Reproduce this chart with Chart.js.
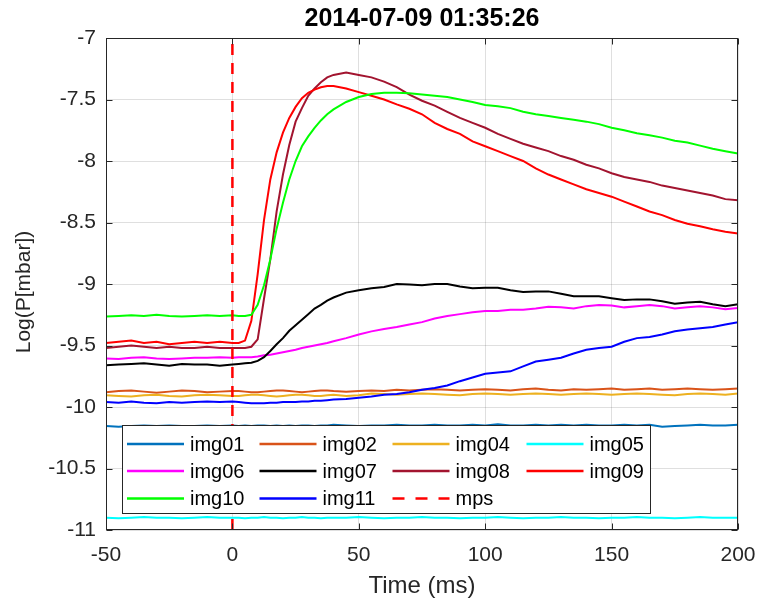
<!DOCTYPE html>
<html>
<head>
<meta charset="utf-8">
<script src="https://cdn.jsdelivr.net/npm/chart.js@4/dist/chart.umd.min.js"></script>
<style>
  html, body { margin: 0; padding: 0; background: #ffffff; }
  #wrap { width: 759px; height: 608px; }
</style>
</head>
<body>
<div id="wrap"><canvas id="c" width="759" height="608"></canvas></div>
<script>
// ---------- data ----------
const chartTitle = '2014-07-09 01:35:26';
const xTitle = 'Time (ms)';
const yTitle = 'Log(P[mbar])';
const xTicks = [-50, 0, 50, 100, 150, 200];
const yTicks = [-11, -10.5, -10, -9.5, -9, -8.5, -8, -7.5, -7];
const seriesNames = ['img01','img02','img04','img05','img06','img07','img08','img09','img10','img11','mps'];

const time = [
  -50,-45,-40,-35,-30,-25,-20,-15,-10,-5,0,
  2.5,5,7.5,10,12.5,15,17.5,20,22.5,25,27.5,30,32.5,35,37.5,40,
  45,50,55,60,65,70,75,80,85,90,95,100,105,110,115,120,125,130,135,140,145,150,155,160,165,170,175,180,185,190,195,200
];

const img01 = [
  -10.155,-10.16,-10.155,-10.15,-10.155,-10.15,-10.155,-10.155,-10.15,-10.155,-10.15,
  -10.155,-10.15,-10.155,-10.15,-10.15,-10.155,-10.15,-10.155,-10.15,-10.155,-10.15,-10.15,-10.155,-10.15,-10.15,-10.145,
  -10.15,-10.155,-10.15,-10.15,-10.145,-10.15,-10.15,-10.145,-10.15,-10.15,
  -10.145,-10.15,-10.14,-10.15,-10.15,-10.145,-10.15,-10.145,-10.15,-10.145,
  -10.15,-10.15,-10.145,-10.15,-10.145,-10.16,-10.155,-10.15,-10.145,-10.15,
  -10.15,-10.145
];
const img02 = [
  -9.88,-9.87,-9.865,-9.875,-9.885,-9.875,-9.865,-9.87,-9.88,-9.875,-9.87,
  -9.87,-9.875,-9.88,-9.88,-9.875,-9.87,-9.865,-9.865,-9.87,-9.875,-9.88,-9.875,-9.87,-9.865,-9.865,-9.87,
  -9.875,-9.87,-9.865,-9.87,-9.86,-9.865,-9.86,-9.855,-9.86,-9.865,
  -9.86,-9.855,-9.86,-9.865,-9.855,-9.85,-9.86,-9.865,-9.855,-9.86,
  -9.855,-9.85,-9.86,-9.855,-9.85,-9.86,-9.855,-9.85,-9.855,-9.86,
  -9.855,-9.85
];
const img04 = [
  -9.905,-9.91,-9.915,-9.905,-9.90,-9.91,-9.915,-9.905,-9.90,-9.905,-9.91,
  -9.91,-9.905,-9.90,-9.90,-9.905,-9.91,-9.915,-9.91,-9.905,-9.90,-9.90,-9.905,-9.91,-9.91,-9.905,-9.90,
  -9.91,-9.905,-9.89,-9.895,-9.90,-9.895,-9.89,-9.895,-9.90,-9.905,
  -9.895,-9.89,-9.895,-9.90,-9.895,-9.89,-9.895,-9.90,-9.895,-9.89,
  -9.895,-9.90,-9.895,-9.89,-9.895,-9.90,-9.905,-9.895,-9.89,-9.895,
  -9.90,-9.89
];
const img05 = [
  -10.9,-10.905,-10.9,-10.895,-10.9,-10.9,-10.905,-10.9,-10.895,-10.9,-10.9,
  -10.9,-10.905,-10.9,-10.9,-10.895,-10.9,-10.9,-10.905,-10.9,-10.9,-10.895,-10.9,-10.9,-10.905,-10.9,-10.9,
  -10.9,-10.895,-10.9,-10.905,-10.9,-10.9,-10.895,-10.9,-10.9,-10.905,
  -10.9,-10.9,-10.895,-10.9,-10.905,-10.9,-10.9,-10.895,-10.9,-10.9,
  -10.905,-10.9,-10.9,-10.895,-10.9,-10.9,-10.905,-10.9,-10.895,-10.9,
  -10.9,-10.9
];
const img06 = [
  -9.605,-9.61,-9.60,-9.595,-9.605,-9.61,-9.605,-9.60,-9.60,-9.595,-9.60,
  -9.595,-9.595,-9.595,-9.59,-9.58,-9.575,-9.565,-9.555,-9.545,-9.535,-9.52,-9.51,-9.50,-9.49,-9.48,-9.465,
  -9.44,-9.41,-9.385,-9.365,-9.35,-9.33,-9.31,-9.28,-9.26,-9.245,
  -9.23,-9.22,-9.22,-9.21,-9.21,-9.20,-9.185,-9.19,-9.20,-9.18,
  -9.17,-9.175,-9.19,-9.18,-9.17,-9.18,-9.20,-9.19,-9.18,-9.19,
  -9.205,-9.195
];
const img07 = [
  -9.66,-9.655,-9.65,-9.645,-9.655,-9.665,-9.65,-9.655,-9.655,-9.665,-9.655,
  -9.65,-9.645,-9.64,-9.625,-9.595,-9.545,-9.49,-9.44,-9.38,-9.335,-9.29,-9.245,-9.20,-9.17,-9.135,-9.11,
  -9.07,-9.05,-9.035,-9.025,-9.00,-9.005,-9.01,-9.00,-9.00,-9.02,
  -9.035,-9.03,-9.03,-9.05,-9.065,-9.06,-9.06,-9.08,-9.10,-9.10,
  -9.10,-9.115,-9.13,-9.125,-9.125,-9.14,-9.16,-9.15,-9.145,-9.165,
  -9.18,-9.165
];
const img08 = [
  -9.52,-9.51,-9.50,-9.51,-9.52,-9.51,-9.52,-9.52,-9.51,-9.52,-9.52,
  -9.52,-9.52,-9.51,-9.45,-9.12,-8.80,-8.41,-8.11,-7.87,-7.68,-7.57,-7.47,-7.41,-7.36,-7.32,-7.30,
  -7.28,-7.30,-7.32,-7.355,-7.40,-7.46,-7.51,-7.55,-7.60,-7.65,
  -7.69,-7.73,-7.78,-7.82,-7.86,-7.89,-7.92,-7.96,-7.99,-8.03,
  -8.06,-8.10,-8.13,-8.15,-8.17,-8.20,-8.22,-8.24,-8.26,-8.28,
  -8.31,-8.32
];
const img09 = [
  -9.48,-9.47,-9.46,-9.48,-9.47,-9.49,-9.48,-9.47,-9.48,-9.47,-9.48,
  -9.48,-9.46,-9.30,-8.92,-8.48,-8.15,-7.93,-7.77,-7.65,-7.56,-7.49,-7.445,-7.42,-7.40,-7.39,-7.39,
  -7.41,-7.44,-7.47,-7.50,-7.54,-7.575,-7.62,-7.69,-7.74,-7.78,
  -7.84,-7.88,-7.92,-7.96,-8.00,-8.06,-8.11,-8.15,-8.19,-8.23,
  -8.26,-8.29,-8.33,-8.37,-8.41,-8.44,-8.48,-8.51,-8.53,-8.555,
  -8.575,-8.59
];
const img10 = [
  -9.265,-9.26,-9.255,-9.26,-9.25,-9.26,-9.265,-9.26,-9.255,-9.26,-9.255,
  -9.26,-9.26,-9.25,-9.17,-9.01,-8.80,-8.55,-8.34,-8.15,-8.00,-7.88,-7.80,-7.73,-7.67,-7.62,-7.58,
  -7.52,-7.48,-7.455,-7.445,-7.445,-7.45,-7.46,-7.47,-7.48,-7.50,
  -7.52,-7.545,-7.555,-7.57,-7.60,-7.62,-7.635,-7.65,-7.665,-7.68,
  -7.70,-7.73,-7.75,-7.775,-7.79,-7.81,-7.835,-7.85,-7.875,-7.90,
  -7.92,-7.94
];
const img11 = [
  -9.96,-9.965,-9.955,-9.965,-9.97,-9.96,-9.965,-9.96,-9.955,-9.96,-9.955,
  -9.96,-9.965,-9.97,-9.97,-9.97,-9.965,-9.965,-9.96,-9.96,-9.96,-9.955,-9.955,-9.95,-9.95,-9.945,-9.94,
  -9.935,-9.925,-9.915,-9.90,-9.895,-9.88,-9.86,-9.845,-9.825,-9.79,
  -9.76,-9.73,-9.72,-9.71,-9.67,-9.63,-9.615,-9.60,-9.565,-9.535,
  -9.52,-9.51,-9.47,-9.44,-9.43,-9.41,-9.385,-9.37,-9.36,-9.35,
  -9.33,-9.31
];
const mpsTime = [0, 0];
const mpsValue = [-11, -7];

// ---------- styles ----------
const seriesColors = ['#0072BD','#D95319','#EDB120','#00FFFF','#FF00FF','#000000','#A2142F','#FF0000','#00FF00','#0000FF','#FF0000'];
const FONT = '"Liberation Sans", Arial, Helvetica, sans-serif';
const AXIS_COLOR = '#262626';

const seriesValues = [img01,img02,img04,img05,img06,img07,img08,img09,img10,img11];
const toPoints = (xs, ys) => xs.map((t, i) => ({ x: t, y: ys[i] }));

const datasets = seriesValues.map((vals, i) => ({
  label: seriesNames[i],
  data: toPoints(time, vals),
  borderColor: seriesColors[i],
  backgroundColor: seriesColors[i],
  borderWidth: 2,
  pointRadius: 0,
  tension: 0,
  fill: false,
  order: seriesNames.length - i
}));
datasets.push({
  label: seriesNames[10],
  data: toPoints(mpsTime, mpsValue),
  borderColor: seriesColors[10],
  backgroundColor: seriesColors[10],
  borderWidth: 2.5,
  borderDash: [11, 8],
  pointRadius: 0,
  fill: false,
  order: 0
});

// ---------- frame / legend / titles plugin ----------
const matlabFrame = {
  id: 'matlabFrame',
  afterDatasetsDraw(chart) {
    const { ctx, chartArea: a, scales: { x, y } } = chart;
    ctx.save();
    ctx.strokeStyle = AXIS_COLOR;
    ctx.lineWidth = 1;
    const seg = (x1, y1, x2, y2) => { ctx.beginPath(); ctx.moveTo(x1, y1); ctx.lineTo(x2, y2); ctx.stroke(); };
    const L = Math.round(a.left) + 0.5, R = Math.round(a.right) - 0.5;
    const T = Math.round(a.top) + 0.5, B = Math.round(a.bottom) - 0.5;
    x.ticks.forEach(t => {
      const px = Math.round(x.getPixelForValue(t.value)) + 0.5;
      seg(px, B, px, B - 6); seg(px, T, px, T + 6);
    });
    y.ticks.forEach(t => {
      const py = Math.round(y.getPixelForValue(t.value)) + 0.5;
      seg(L, py, L + 6, py); seg(R, py, R - 6, py);
    });
    ctx.strokeRect(L, T, R - L, B - T);

    // legend (4 columns x 3 rows, inside the axes)
    const lx = 122.5, ly = 425.5, lw = 528, lh = 88;
    ctx.fillStyle = '#ffffff';
    ctx.fillRect(lx, ly, lw, lh);
    ctx.strokeStyle = AXIS_COLOR;
    ctx.lineWidth = 1;
    ctx.strokeRect(lx, ly, lw, lh);
    const colX = [127, 259.5, 392.5, 526.5];
    const rowY = [444, 471, 498.5];
    ctx.font = '20px ' + FONT;
    ctx.textBaseline = 'middle';
    ctx.textAlign = 'left';
    chart.data.datasets.forEach((ds, i) => {
      const cx = colX[i % 4], cy = rowY[Math.floor(i / 4)];
      ctx.strokeStyle = ds.borderColor;
      ctx.lineWidth = 2.5;
      ctx.setLineDash(ds.borderDash ? [12, 11] : []);
      seg(cx, cy, cx + 57, cy);
      ctx.setLineDash([]);
      ctx.fillStyle = '#000000';
      ctx.fillText(ds.label, cx + 63, cy + 1);
    });
    ctx.restore();
  },
  afterDraw(chart) {
    const { ctx, chartArea: a } = chart;
    const cx = (a.left + a.right) / 2;
    ctx.save();
    ctx.fillStyle = '#000000';
    ctx.textAlign = 'center';
    ctx.textBaseline = 'middle';
    ctx.font = 'bold 25px ' + FONT;
    ctx.fillText(chartTitle, cx, 19);
    ctx.fillStyle = AXIS_COLOR;
    ctx.font = '24px ' + FONT;
    ctx.fillText(xTitle, cx, 586);
    ctx.translate(24, 292);
    ctx.rotate(-Math.PI / 2);
    ctx.font = '21px ' + FONT;
    ctx.fillText(yTitle, 0, 0);
    ctx.restore();
  }
};

new Chart(document.getElementById('c'), {
  type: 'line',
  data: { datasets },
  options: {
    responsive: false,
    animation: false,
    devicePixelRatio: 1,
    layout: { padding: { top: 38, right: 21, left: 0, bottom: 0 } },
    plugins: { legend: { display: false }, title: { display: false }, tooltip: { enabled: false } },
    scales: {
      x: {
        type: 'linear',
        min: xTicks[0], max: xTicks[xTicks.length - 1],
        afterBuildTicks: s => { s.ticks = xTicks.map(v => ({ value: v })); },
        afterFit: s => { s.height = 78; s.paddingLeft = 0; s.paddingRight = 0; },
        grid: { color: 'rgba(38,38,38,0.15)', lineWidth: 1, drawTicks: false },
        border: { display: false },
        ticks: { color: AXIS_COLOR, font: { family: FONT, size: 21 }, padding: 13, maxRotation: 0, callback: v => String(v) }
      },
      y: {
        type: 'linear',
        min: yTicks[0], max: yTicks[yTicks.length - 1],
        afterBuildTicks: s => { s.ticks = yTicks.map(v => ({ value: v })); },
        afterFit: s => { s.width = 106; s.paddingTop = 0; s.paddingBottom = 0; },
        grid: { color: 'rgba(38,38,38,0.15)', lineWidth: 1, drawTicks: false },
        border: { display: false },
        ticks: { color: AXIS_COLOR, font: { family: FONT, size: 21 }, padding: 10, callback: v => String(v) }
      }
    }
  },
  plugins: [matlabFrame]
});
</script>
</body>
</html>
